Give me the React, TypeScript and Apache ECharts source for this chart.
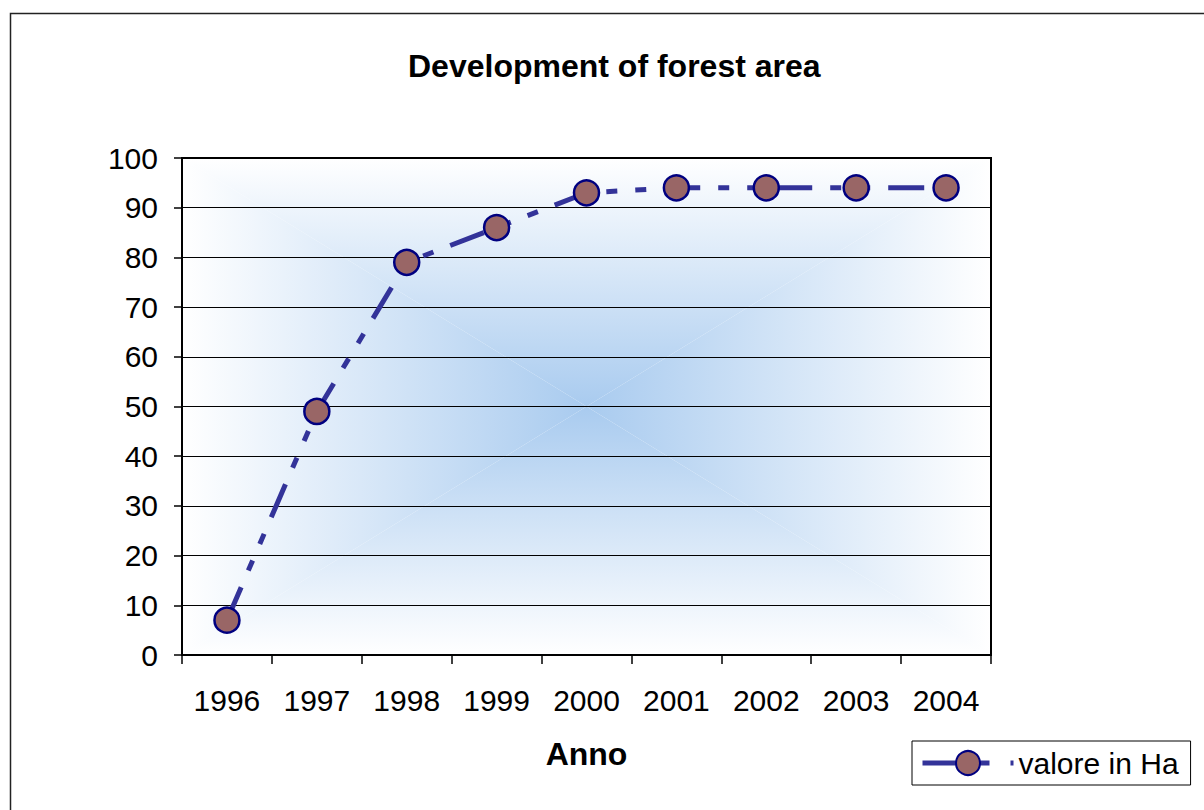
import React, { useEffect, useRef } from "react";
import * as echarts from "echarts";

const years = ["1996", "1997", "1998", "1999", "2000", "2001", "2002", "2003", "2004"];
const areaHa = [7, 49, 79, 86, 93, 94, 94, 94, 94];
const seriesName = "valore in Ha";
const titleText = "Development of forest area";
const xAxisName = "Anno";

const FONT = "'Liberation Sans', Arial, sans-serif";

export default function App() {
  const ref = useRef<HTMLDivElement>(null);
  useEffect(() => {
    if (!ref.current) return;
    const chart = echarts.init(ref.current, null, { renderer: "svg" });
    const gl = 182, gt = 158, gw = 809, gh = 497;
    const cx = gl + gw / 2, cy = gt + gh / 2;
    const center = "#A9CBEF";
    const white = "#FFFFFF";
    const lg = (x: number, y: number, x2: number, y2: number, c0: string, c1: string) => ({
      type: "linear", x, y, x2, y2,
      colorStops: [{ offset: 0, color: c0 }, { offset: 1, color: c1 }],
    });
    chart.setOption({
      animation: false,
      backgroundColor: "#fff",
      title: {
        text: titleText,
        left: 403,
        top: 45,
        textStyle: { fontFamily: FONT, fontSize: 32, fontWeight: "bold", color: "#000" },
      },
      graphic: [
        { type: "rect", z: -20, shape: { x: 10.5, y: 13.5, width: 1300, height: 900 }, style: { fill: "none", stroke: "#222", lineWidth: 1.5 } },
        { type: "polygon", z: -10, shape: { points: [[gl, gt], [gl + gw, gt], [cx, cy]] }, style: { fill: lg(0, 0, 0, 1, white, center) } },
        { type: "polygon", z: -10, shape: { points: [[gl, gt + gh], [gl + gw, gt + gh], [cx, cy]] }, style: { fill: lg(0, 0, 0, 1, center, white) } },
        { type: "polygon", z: -10, shape: { points: [[gl, gt], [gl, gt + gh], [cx, cy]] }, style: { fill: lg(0, 0, 1, 0, white, center) } },
        { type: "polygon", z: -10, shape: { points: [[gl + gw, gt], [gl + gw, gt + gh], [cx, cy]] }, style: { fill: lg(0, 0, 1, 0, center, white) } },
      ],
      legend: {
        left: 912,
        top: 741,
        orient: "horizontal",
        borderColor: "#000",
        borderWidth: 1,
        padding: [7, 12, 7, 8],
        itemWidth: 91,
        itemHeight: 30,
        textStyle: { fontFamily: FONT, fontSize: 30, color: "#000" },
        lineStyle: { type: [67, 21, 11, 10], width: 5 },
        data: [seriesName],
      },
      grid: {
        left: gl, top: gt, width: gw, height: gh,
        show: true, borderColor: "#000", borderWidth: 2, backgroundColor: "transparent",
      },
      xAxis: {
        type: "category",
        data: years,
        boundaryGap: true,
        name: xAxisName,
        nameLocation: "middle",
        nameGap: 83,
        nameTextStyle: { fontFamily: FONT, fontSize: 32, fontWeight: "bold", color: "#000" },
        axisLine: { lineStyle: { color: "#000", width: 2 } },
        axisTick: { show: true, length: 9, lineStyle: { color: "#000", width: 1.5 } },
        axisLabel: { fontFamily: FONT, fontSize: 30, color: "#000", margin: 30, interval: 0 },
        splitLine: { show: false },
      },
      yAxis: {
        type: "value",
        min: 0,
        max: 100,
        interval: 10,
        axisLine: { show: true, lineStyle: { color: "#000", width: 2 } },
        axisTick: { show: true, length: 8, lineStyle: { color: "#000", width: 1.5 } },
        axisLabel: { fontFamily: FONT, fontSize: 30, color: "#000", margin: 24 },
        splitLine: { show: true, lineStyle: { color: "#000", width: 1 } },
      },
      series: [
        {
          name: seriesName,
          type: "line",
          data: areaHa,
          symbol: "circle",
          symbolSize: 25,
          lineStyle: { color: "#333399", width: 5, type: [36, 18, 11, 18, 11, 18] },
          itemStyle: { color: "#996666", borderColor: "#000080", borderWidth: 2.5 },
        },
      ],
    });
    return () => chart.dispose();
  }, []);
  return <div ref={ref} style={{ position: "absolute", left: 0, top: 0, width: 1204, height: 810 }} />;
}
